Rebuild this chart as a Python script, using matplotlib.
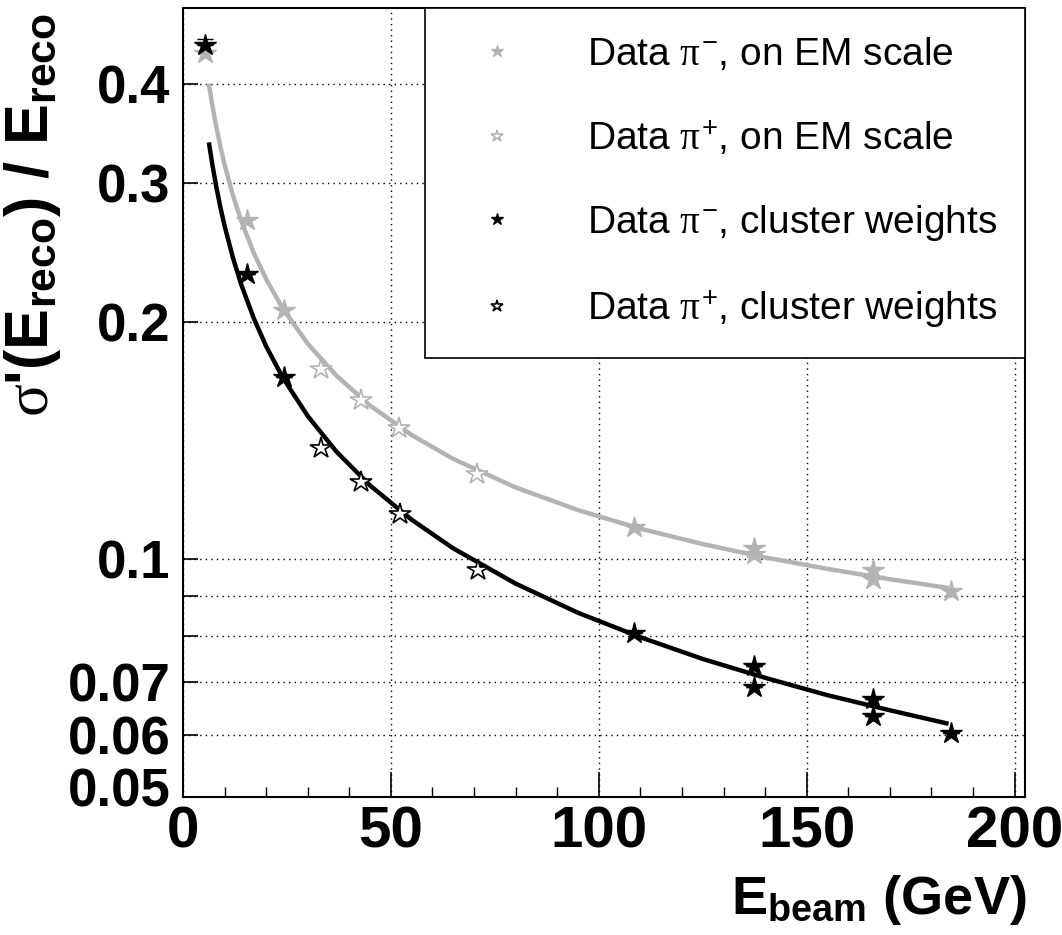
import matplotlib
matplotlib.use("Agg")
import matplotlib.pyplot as plt
from matplotlib.ticker import FixedLocator, FixedFormatter, NullLocator
from matplotlib.transforms import ScaledTranslation

plt.rcParams['font.family'] = ['Liberation Sans', 'DejaVu Sans']
plt.rcParams['mathtext.fontset'] = 'custom'
plt.rcParams['mathtext.rm'] = 'Liberation Sans'
plt.rcParams['mathtext.it'] = 'Liberation Serif'
plt.rcParams['mathtext.bf'] = 'Liberation Sans:bold'

# data
# EM scale, pi-  (filled grey)
em_neg_x = [5.3, 15.4, 24.3, 108.4, 137.3, 137.3, 165.9, 165.9, 184.6]
em_neg_y = [0.438, 0.269, 0.207, 0.110, 0.1035, 0.1016, 0.0970, 0.0946, 0.0912]
# EM scale, pi+  (open grey)
em_pos_x = [33.2, 42.8, 51.9, 70.7]
em_pos_y = [0.1742, 0.1592, 0.1469, 0.1284]
# cluster weights, pi-  (filled black)
cw_neg_x = [5.3, 15.4, 24.3, 108.4, 137.3, 137.3, 165.9, 165.9, 184.6]
cw_neg_y = [0.449, 0.230, 0.1701, 0.0806, 0.0733, 0.0690, 0.0666, 0.0633, 0.0602]
cw_neg_err = [0.008, 0, 0, 0, 0, 0, 0, 0, 0]
# cluster weights, pi+  (open black)
cw_pos_x = [33.2, 42.8, 52.1, 70.9]
cw_pos_y = [0.1386, 0.1252, 0.1143, 0.0969]

# fitted curves
fit_x = [6.3, 7, 8, 9, 10, 12, 14, 17, 20, 24, 30, 37, 45, 55, 65, 80, 95,
         110, 125, 140, 155, 170, 183.6]
fit_em = [0.3984, 0.3779, 0.3535, 0.3335, 0.3166, 0.2895, 0.2687, 0.2447,
          0.2266, 0.2080, 0.1877, 0.1708, 0.1567, 0.1438, 0.1341, 0.1234,
          0.1155, 0.1094, 0.1046, 0.1006, 0.0973, 0.0944, 0.0921]
fit_cw = [0.3356, 0.3179, 0.2968, 0.2794, 0.2648, 0.2413, 0.2231, 0.2023,
          0.1863, 0.1700, 0.1520, 0.1368, 0.1241, 0.1123, 0.1033, 0.0932,
          0.0856, 0.0797, 0.0748, 0.0708, 0.0673, 0.0644, 0.0620]

y_ticks = [0.05, 0.06, 0.07, 0.08, 0.09, 0.1, 0.2, 0.3, 0.4]
y_labels = ['0.05', '0.06', '0.07', '', '', '0.1', '0.2', '0.3', '0.4']
x_ticks = [0, 50, 100, 150, 200]

grey = '#b3b3b3'

fig = plt.figure(figsize=(10.62, 9.35), dpi=100)
ax = fig.add_axes([183 / 1062, 138 / 935, 842 / 1062, 789 / 935])

ax.plot(fit_x, fit_em, color=grey, lw=3.2, zorder=2)
ax.plot(fit_x, fit_cw, color='black', lw=3.2, zorder=2)

h1, = ax.plot(em_neg_x, em_neg_y, ls='none', marker='*', ms=16, color=grey,
              mec=grey, zorder=3)
h2, = ax.plot(em_pos_x, em_pos_y, ls='none', marker='*', ms=16, mfc='white',
              mec=grey, mew=1.2, zorder=3)
ax.errorbar(cw_neg_x, cw_neg_y, yerr=[[0] * len(cw_neg_err), cw_neg_err],
            ls='none', ecolor='black', elinewidth=1.2, capsize=6, zorder=3)
h3, = ax.plot(cw_neg_x, cw_neg_y, ls='none', marker='*', ms=16, color='black',
              zorder=4)
h4, = ax.plot(cw_pos_x, cw_pos_y, ls='none', marker='*', ms=16, mfc='white',
              mec='black', mew=1.2, zorder=4)

ax.set_yscale('log')
ax.set_xlim(0, 202.5)
ax.set_ylim(0.05, 0.5)

ax.yaxis.set_major_locator(FixedLocator(y_ticks))
ax.yaxis.set_major_formatter(FixedFormatter(y_labels))
ax.yaxis.set_minor_locator(NullLocator())
ax.xaxis.set_major_locator(FixedLocator(x_ticks))
ax.xaxis.set_minor_locator(FixedLocator(range(0, 201, 10)))

ax.tick_params(axis='x', which='major', direction='in', length=18, width=1.2,
               labelsize=42, pad=6)
ax.tick_params(axis='x', which='minor', direction='in', length=7.5, width=1.0)
ax.tick_params(axis='y', which='major', direction='in', length=11, width=1.2,
               labelsize=38, pad=9)
for lab in ax.get_xticklabels() + ax.get_yticklabels():
    lab.set_fontweight('bold')
# lowest label sits a little above its tick, as in the original
lab05 = ax.get_yticklabels()[0]
lab05.set_transform(lab05.get_transform()
                    + ScaledTranslation(0, 7 / 72, fig.dpi_scale_trans))

ax.grid(True, which='major', ls=(0, (1, 3)), color='black', lw=1.0)
for sp in ax.spines.values():
    sp.set_linewidth(1.5)

leg = ax.legend([h1, h2, h3, h4],
                [r'Data $\pi^{-}$, on EM scale',
                 r'Data $\pi^{+}$, on EM scale',
                 r'Data $\pi^{-}$, cluster weights',
                 r'Data $\pi^{+}$, cluster weights'],
                loc='upper right', bbox_to_anchor=(1, 1), borderaxespad=0,
                fontsize=28, frameon=True, fancybox=False, framealpha=1,
                edgecolor='black', borderpad=0.72, labelspacing=1.17,
                handlelength=2.3, handletextpad=1.15, markerscale=0.55)
leg.get_frame().set_linewidth(1.2)
leg.set_zorder(5)

fig.text(33 / 1062, 1 - 215 / 935,
         r"$\sigma$'(E$_{\mathbf{reco}}$) / E$_{\mathbf{reco}}$",
         rotation=90, ha='center', va='center', fontsize=44, fontweight='bold')
fig.text(1027 / 1062, 1 - 900 / 935, r"E$_{\mathbf{beam}}$ (GeV)",
         ha='right', va='center', fontsize=39, fontweight='bold')

fig.savefig('out.png', dpi=100)
